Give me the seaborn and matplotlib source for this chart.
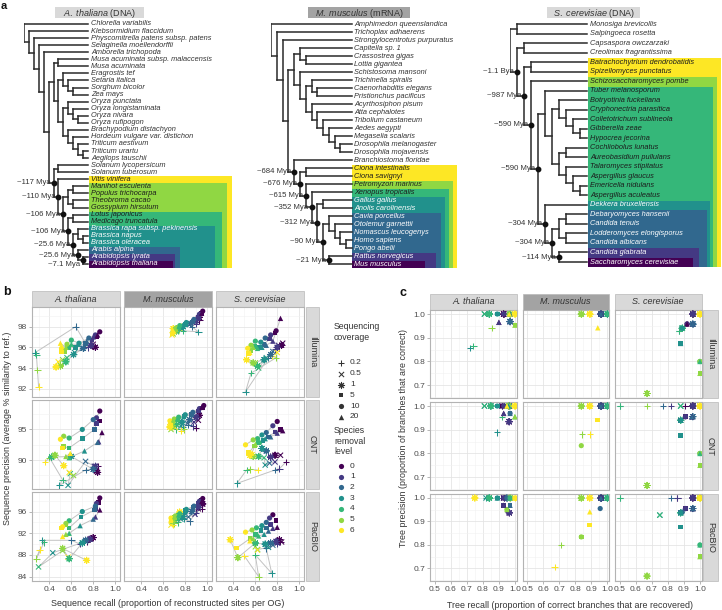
import numpy as np
import pandas as pd
import matplotlib
matplotlib.use("Agg")
import matplotlib.pyplot as plt
from matplotlib.patches import Rectangle
import seaborn as sns

# ======================= DATA: panel a (trees) =======================
athal_tree = ("Chlorella variabilis",
 ("Klebsormidium flaccidum",
  ("Physcomitrella patens subsp. patens",
   ("Selaginella moellendorffii",
    ("Amborella trichopoda",
     ((("Musa acuminata subsp. malaccensis", "Musa acuminata"),
       (("Eragrostis tef", ("Setaria italica", ("Sorghum bicolor", "Zea mays"))),
        (("Oryza punctata", ("Oryza longistaminata", ("Oryza nivara", "Oryza rufipogon"))),
         ("Brachypodium distachyon", ("Hordeum vulgare var. distichon",
                                      ("Triticum aestivum", ("Triticum urartu", "Aegilops tauschii"))))))),
      (("Solanum lycopersicum", "Solanum tuberosum"),
       ("Vitis vinifera",
        ((("Manihot esculenta", "Populus trichocarpa"), ("Theobroma cacao", "Gossypium hirsutum")),
         (("Lotus japonicus", "Medicago truncatula"),
          (("Brassica rapa subsp. pekinensis", ("Brassica napus", "Brassica oleracea")),
           ("Arabis alpina", ("Arabidopsis lyrata", "Arabidopsis thaliana")))))))))))))
athal_focal = "Arabidopsis thaliana"
athal_ages = ["~7.1 Mya", "~25.6 Mya", "~25.6 Mya", "~106 Mya", "~106 Mya", "~110 Mya", "~117 Mya"]
athal_box_start = ["Arabidopsis thaliana", "Arabidopsis lyrata", "Arabis alpina",
                   "Brassica rapa subsp. pekinensis", "Lotus japonicus", "Manihot esculenta", "Vitis vinifera"]

mmus_tree = ("Amphimedon queenslandica",
 ("Trichoplax adhaerens",
  ("Strongylocentrotus purpuratus",
   ((("Capitella sp. 1", ("Crassostrea gigas", "Lottia gigantea")),
     ("Schistosoma mansoni",
      (("Trichinella spiralis", ("Caenorhabditis elegans", "Pristionchus pacificus")),
       ("Acyrthosiphon pisum", ("Atta cephalotes", ("Tribolium castaneum", ("Aedes aegypti",
        ("Megaselia scalaris", ("Drosophila melanogaster", "Drosophila mojavensis"))))))))),
    ("Branchiostoma floridae",
     (("Ciona intestinalis", "Ciona savignyi"),
      ("Petromyzon marinus",
       ("Xenopus tropicalis",
        (("Gallus gallus", "Anolis carolinensis"),
         (("Cavia porcellus", ("Otolemur garnettii", ("Nomascus leucogenys", ("Homo sapiens", "Pongo abelii")))),
          ("Rattus norvegicus", "Mus musculus")))))))))))
mmus_focal = "Mus musculus"
mmus_ages = ["~21 Mya", "~90 Mya", "~312 Mya", "~352 Mya", "~615 Mya", "~676 Mya", "~684 Mya"]
mmus_box_start = ["Mus musculus", "Rattus norvegicus", "Cavia porcellus", "Gallus gallus",
                  "Xenopus tropicalis", "Petromyzon marinus", "Ciona intestinalis"]

scer_tree = (("Monosiga brevicollis", "Salpingoeca rosetta"),
 (("Capsaspora owczarzaki", "Creolimax fragrantissima"),
  (("Batrachochytrium dendrobatidis", "Spizellomyces punctatus"),
   ("Schizosaccharomyces pombe",
    (("Tuber melanosporum",
      (("Botryotinia fuckeliana", ("Cryphonectria parasitica", ("Colletotrichum sublineola",
                                                               ("Gibberella zeae", "Hypocrea jecorina")))),
       (("Cochliobolus lunatus", "Aureobasidium pullulans"),
        ("Talaromyces stipitatus", ("Aspergillus glaucus", ("Emericella nidulans", "Aspergillus aculeatus")))))),
     ("Dekkera bruxellensis",
      ((("Debaryomyces hansenii", "Candida tenuis"), ("Lodderomyces elongisporus", "Candida albicans")),
       ("Candida glabrata", "Saccharomyces cerevisiae"))))))))
scer_focal = "Saccharomyces cerevisiae"
scer_ages = ["~114 Mya", "~304 Mya", "~304 Mya", "~590 Mya", "~590 Mya", "~987 Mya", "~1.1 Bya"]
scer_box_start = ["Saccharomyces cerevisiae", "Candida glabrata", "Debaryomyces hansenii",
                  "Dekkera bruxellensis", "Tuber melanosporum", "Schizosaccharomyces pombe",
                  "Batrachochytrium dendrobatidis"]

# ======================= DATA: panels b and c =======================
organisms = ["A. thaliana", "M. musculus", "S. cerevisiae"]
technologies = ["Illumina", "ONT", "PacBIO"]
coverages = [0.2, 0.5, 1, 5, 10, 20]
levels = [0, 1, 2, 3, 4, 5, 6]
coverage_labels = ["0.2", "0.5", "1", "5", "10", "20"]

# rows = coverage (0.2, 0.5, 1, 5, 10, 20); columns = removal level 0..6
b_ath_ill_x = [[0.79, 0.75, 0.64, 0.27, 0.28, 0.29, 0.30],
               [0.80, 0.76, 0.70, 0.63, 0.56, 0.52, 0.48],
               [0.82, 0.78, 0.71, 0.62, 0.55, 0.50, 0.46],
               [0.83, 0.79, 0.73, 0.64, 0.58, 0.54, 0.51],
               [0.86, 0.82, 0.76, 0.67, 0.60, 0.56, 0.51],
               [0.84, 0.80, 0.74, 0.66, 0.60, 0.55, 0.50]]
b_ath_ill_y = [[96.2, 96.0, 98.0, 95.5, 95.3, 93.8, 92.2],
               [96.3, 96.1, 95.9, 95.5, 95.0, 94.8, 94.6],
               [96.0, 96.2, 95.9, 95.3, 94.6, 94.2, 94.1],
               [97.0, 96.7, 96.4, 96.0, 96.0, 95.6, 95.6],
               [97.5, 97.2, 96.9, 96.4, 96.7, 96.3, 95.9],
               [97.2, 97.0, 96.6, 96.3, 96.3, 96.0, 96.4]]
b_mmu_ill_x = [[0.93, 0.90, 0.86, 0.92, 0.78, 0.74, 0.76],
               [0.92, 0.89, 0.84, 0.77, 0.72, 0.69, 0.68],
               [0.93, 0.90, 0.85, 0.78, 0.72, 0.70, 0.69],
               [0.95, 0.92, 0.87, 0.80, 0.74, 0.71, 0.68],
               [0.96, 0.93, 0.88, 0.81, 0.75, 0.72, 0.69],
               [0.95, 0.92, 0.87, 0.80, 0.74, 0.71, 0.69]]
b_mmu_ill_y = [[98.6, 98.3, 98.0, 97.5, 97.6, 97.7, 98.0],
               [98.8, 98.5, 98.2, 97.8, 97.5, 97.3, 97.2],
               [98.9, 98.6, 98.3, 98.0, 97.6, 97.5, 97.8],
               [99.3, 98.9, 98.5, 98.2, 97.9, 97.7, 97.3],
               [99.5, 99.2, 98.7, 98.4, 98.1, 97.9, 97.4],
               [99.3, 99.0, 98.6, 98.3, 98.0, 97.8, 97.6]]
b_sce_ill_x = [[0.82, 0.78, 0.72, 0.51, 0.56, 0.79, 0.75],
               [0.85, 0.81, 0.76, 0.70, 0.63, 0.60, 0.80],
               [0.84, 0.80, 0.74, 0.68, 0.62, 0.58, 0.52],
               [0.78, 0.73, 0.68, 0.64, 0.59, 0.56, 0.54],
               [0.79, 0.74, 0.69, 0.65, 0.60, 0.56, 0.53],
               [0.83, 0.76, 0.70, 0.66, 0.62, 0.58, 0.55]]
b_sce_ill_y = [[96.0, 95.8, 95.0, 91.7, 93.5, 95.0, 95.2],
               [96.4, 96.2, 95.6, 95.0, 94.0, 94.5, 95.5],
               [96.2, 96.0, 95.3, 94.8, 94.2, 94.5, 94.8],
               [97.4, 96.8, 96.3, 96.0, 96.1, 95.7, 95.4],
               [97.6, 97.2, 96.9, 96.5, 96.6, 96.2, 95.9],
               [98.8, 96.6, 96.2, 96.0, 95.9, 96.0, 95.5]]
b_ath_ont_x = [[0.84, 0.80, 0.73, 0.49, 0.52, 0.40, 0.36],
               [0.83, 0.81, 0.73, 0.57, 0.59, 0.62, 0.58],
               [0.84, 0.82, 0.80, 0.60, 0.42, 0.45, 0.53],
               [0.86, 0.83, 0.81, 0.70, 0.58, 0.53, 0.52],
               [0.86, 0.83, 0.80, 0.70, 0.58, 0.53, 0.50],
               [0.88, 0.85, 0.84, 0.72, 0.58, 0.55, 0.59]]
b_ath_ont_y = [[89.0, 88.6, 88.4, 85.9, 86.8, 90.4, 89.7],
               [88.2, 89.0, 89.8, 85.9, 87.8, 87.5, 88.0],
               [88.0, 89.0, 88.5, 90.6, 90.5, 90.8, 89.1],
               [96.4, 96.0, 95.0, 93.5, 92.0, 92.2, 92.0],
               [98.0, 96.9, 96.6, 95.0, 93.6, 93.9, 93.4],
               [94.5, 93.0, 92.9, 91.5, 90.4, 90.6, 91.1]]
b_mmu_ont_x = [[0.90, 0.87, 0.83, 0.78, 0.72, 0.79, 0.76],
               [0.92, 0.88, 0.82, 0.76, 0.70, 0.67, 0.71],
               [0.93, 0.90, 0.84, 0.77, 0.72, 0.68, 0.66],
               [0.96, 0.92, 0.86, 0.79, 0.73, 0.69, 0.67],
               [0.97, 0.93, 0.87, 0.80, 0.74, 0.70, 0.66],
               [0.95, 0.92, 0.86, 0.79, 0.73, 0.69, 0.66]]
b_mmu_ont_y = [[95.3, 95.5, 95.8, 95.4, 95.0, 95.0, 94.8],
               [96.5, 96.2, 96.0, 95.6, 95.3, 95.0, 95.3],
               [97.3, 97.0, 96.6, 96.2, 95.8, 95.6, 95.4],
               [98.5, 98.0, 97.4, 97.1, 96.6, 96.3, 96.0],
               [98.9, 98.4, 97.8, 97.4, 97.0, 96.7, 96.4],
               [98.6, 98.2, 97.6, 97.3, 96.8, 96.5, 96.2]]
b_sce_ont_x = [[0.88, 0.82, 0.78, 0.43, 0.52, 0.55, 0.62],
               [0.83, 0.78, 0.73, 0.69, 0.68, 0.62, 0.57],
               [0.78, 0.74, 0.70, 0.66, 0.63, 0.58, 0.55],
               [0.83, 0.78, 0.72, 0.67, 0.63, 0.59, 0.54],
               [0.80, 0.76, 0.70, 0.66, 0.62, 0.58, 0.51],
               [0.85, 0.80, 0.74, 0.69, 0.64, 0.60, 0.57]]
b_sce_ont_y = [[89.7, 88.6, 88.4, 86.2, 88.4, 88.5, 88.4],
               [90.8, 89.7, 89.5, 89.2, 90.4, 90.6, 90.9],
               [90.8, 90.5, 91.5, 91.9, 90.6, 90.6, 90.8],
               [95.0, 94.6, 93.8, 93.2, 92.8, 92.3, 91.2],
               [96.3, 95.6, 94.5, 94.1, 93.5, 93.3, 92.5],
               [94.8, 94.4, 93.8, 93.5, 93.0, 92.6, 91.2]]
b_ath_pac_x = [[0.74, 0.68, 0.60, 0.33, 0.35, 0.28, 0.31],
               [0.78, 0.75, 0.73, 0.43, 0.30, 0.52, 0.57],
               [0.80, 0.77, 0.73, 0.70, 0.58, 0.52, 0.74],
               [0.85, 0.82, 0.81, 0.69, 0.58, 0.55, 0.51],
               [0.86, 0.83, 0.82, 0.70, 0.58, 0.55, 0.52],
               [0.86, 0.82, 0.80, 0.68, 0.58, 0.55, 0.52]]
b_ath_pac_y = [[90.4, 90.0, 90.7, 90.7, 90.3, 87.3, 89.0],
               [91.0, 90.8, 90.5, 88.4, 85.8, 88.8, 87.6],
               [91.2, 90.9, 90.7, 90.2, 87.3, 89.2, 87.0],
               [97.7, 96.6, 96.3, 95.0, 93.0, 93.5, 93.0],
               [98.5, 97.5, 97.0, 96.0, 94.3, 93.8, 93.2],
               [96.3, 95.0, 94.6, 93.4, 92.0, 91.8, 91.4]]
b_mmu_pac_x = [[0.95, 0.90, 0.84, 0.79, 0.73, 0.70, 0.69],
               [0.92, 0.89, 0.83, 0.76, 0.71, 0.68, 0.67],
               [0.96, 0.92, 0.86, 0.78, 0.72, 0.69, 0.75],
               [0.95, 0.92, 0.87, 0.80, 0.74, 0.70, 0.67],
               [0.96, 0.93, 0.88, 0.81, 0.75, 0.71, 0.67],
               [0.95, 0.92, 0.87, 0.80, 0.74, 0.70, 0.67]]
b_mmu_pac_y = [[96.5, 95.8, 94.2, 94.6, 94.0, 93.8, 93.6],
               [96.5, 95.5, 95.0, 94.6, 94.3, 94.0, 93.5],
               [97.4, 96.8, 96.0, 95.1, 94.6, 94.2, 95.9],
               [98.0, 97.5, 96.8, 96.2, 95.3, 94.9, 94.4],
               [98.4, 97.9, 97.0, 96.4, 95.6, 95.2, 94.8],
               [97.8, 97.3, 96.6, 96.0, 95.4, 95.0, 94.6]]
b_sce_pac_x = [[0.83, 0.80, 0.70, 0.75, 0.60, 0.63, 0.50],
               [0.84, 0.80, 0.76, 0.72, 0.62, 0.60, 0.62],
               [0.82, 0.79, 0.74, 0.69, 0.60, 0.44, 0.37],
               [0.79, 0.74, 0.70, 0.65, 0.60, 0.55, 0.43],
               [0.76, 0.73, 0.70, 0.66, 0.61, 0.57, 0.51],
               [0.80, 0.76, 0.72, 0.68, 0.63, 0.58, 0.55]]
b_sce_pac_y = [[90.4, 90.0, 89.2, 84.6, 88.0, 84.0, 87.8],
               [90.4, 90.2, 89.8, 89.4, 89.0, 89.5, 88.9],
               [90.8, 90.5, 90.2, 90.0, 90.2, 87.5, 90.8],
               [94.3, 93.6, 93.0, 92.5, 91.8, 91.0, 89.3],
               [95.4, 94.8, 94.0, 93.4, 93.0, 92.6, 92.2],
               [93.1, 92.9, 92.4, 91.8, 91.5, 91.0, 90.6]]

c_ath_ill_x = [[0.93, 0.93, 0.97, 0.72, 0.74, 0.854, 1.0],
               [0.93, 0.93, 0.97, 0.81, 0.81, 0.97, 1.0],
               [0.93, 0.97, 0.97, 0.84, 0.84, 0.97, 1.0],
               [0.93, 0.93, 0.97, 0.89, 0.965, 1.0, 1.0],
               [0.93, 0.93, 0.97, 0.89, 0.965, 0.965, 1.0],
               [0.90, 0.90, 0.97, 0.965, 0.965, 1.0, 0.965]]
c_ath_ill_y = [[1.0, 1.0, 1.0, 0.857, 0.866, 0.942, 1.0],
               [1.0, 1.0, 0.968, 1.0, 1.0, 1.0, 1.0],
               [1.0, 0.968, 0.968, 1.0, 1.0, 1.0, 1.0],
               [1.0, 1.0, 1.0, 1.0, 1.0, 0.953, 1.0],
               [1.0, 1.0, 0.968, 1.0, 1.0, 1.0, 1.0],
               [0.965, 0.965, 1.0, 1.0, 1.0, 0.953, 1.0]]
c_mmu_ill_x = [[0.96, 0.96, 0.96, 1.0, 1.0, 0.837, 0.89],
               [0.96, 0.96, 0.96, 1.0, 1.0, 0.837, 0.89],
               [0.96, 0.96, 0.96, 1.0, 1.0, 0.837, 0.89],
               [0.96, 0.96, 0.96, 1.0, 1.0, 0.837, 0.89],
               [0.96, 0.96, 0.96, 1.0, 1.0, 0.837, 0.89],
               [0.96, 0.96, 0.96, 1.0, 1.0, 0.837, 0.94]]
c_mmu_ill_y = [[1.0, 1.0, 1.0, 1.0, 1.0, 1.0, 1.0],
               [1.0, 1.0, 1.0, 1.0, 1.0, 1.0, 1.0],
               [1.0, 1.0, 1.0, 1.0, 1.0, 1.0, 1.0],
               [1.0, 1.0, 1.0, 1.0, 1.0, 1.0, 1.0],
               [1.0, 1.0, 1.0, 1.0, 1.0, 1.0, 1.0],
               [1.0, 1.0, 1.0, 1.0, 1.0, 1.0, 0.942]]
c_sce_ill_x = [[0.956, 0.956, 0.956, 0.87, 0.87, 0.956, 1.0],
               [0.956, 0.956, 0.956, 0.89, 0.89, 0.956, 1.0],
               [0.956, 0.956, 0.956, 0.89, 0.89, 0.67, 1.0],
               [0.92, 0.92, 0.956, 0.88, 1.0, 1.0, 1.0],
               [0.92, 0.92, 0.956, 0.89, 1.0, 1.0, 1.0],
               [0.92, 0.956, 0.956, 0.88, 1.0, 1.0, 1.0]]
c_sce_ill_y = [[1.0, 1.0, 0.958, 0.93, 0.93, 1.0, 1.0],
               [1.0, 1.0, 0.958, 0.94, 0.94, 1.0, 1.0],
               [1.0, 1.0, 0.958, 0.94, 0.94, 0.665, 1.0],
               [0.958, 0.958, 0.958, 0.876, 0.75, 0.75, 1.0],
               [0.958, 0.958, 0.958, 0.94, 0.80, 0.80, 1.0],
               [0.958, 0.958, 0.958, 0.876, 0.80, 0.75, 1.0]]
c_ath_ont_x = [[0.92, 0.92, 0.96, 0.887, 0.92, 0.97, 1.0],
               [0.92, 0.92, 0.96, 0.81, 0.81, 0.96, 1.0],
               [0.964, 0.964, 0.964, 0.85, 0.85, 0.96, 1.0],
               [0.92, 0.93, 0.97, 0.89, 0.96, 0.96, 1.0],
               [0.92, 0.93, 0.97, 0.89, 0.96, 0.96, 1.0],
               [0.93, 0.93, 0.97, 0.96, 1.0, 1.0, 0.95]]
c_ath_ont_y = [[1.0, 1.0, 1.0, 0.889, 0.955, 1.0, 1.0],
               [1.0, 1.0, 1.0, 1.0, 1.0, 1.0, 1.0],
               [0.934, 0.934, 1.0, 1.0, 1.0, 1.0, 1.0],
               [1.0, 1.0, 0.969, 1.0, 1.0, 1.0, 1.0],
               [1.0, 1.0, 0.969, 1.0, 1.0, 1.0, 1.0],
               [0.969, 0.969, 0.969, 1.0, 0.955, 0.955, 1.0]]
c_mmu_ont_x = [[0.96, 0.96, 0.96, 1.0, 1.0, 0.84, 0.89],
               [0.96, 0.96, 0.96, 1.0, 1.0, 0.837, 0.89],
               [0.96, 0.96, 0.96, 1.0, 1.0, 0.837, 0.89],
               [0.96, 0.96, 0.96, 1.0, 1.0, 0.837, 0.94],
               [0.96, 0.96, 0.96, 1.0, 1.0, 0.837, 0.89],
               [0.96, 0.96, 0.96, 1.0, 1.0, 0.837, 0.89]]
c_mmu_ont_y = [[1.0, 1.0, 1.0, 1.0, 1.0, 0.881, 0.881],
               [1.0, 1.0, 1.0, 1.0, 1.0, 1.0, 1.0],
               [1.0, 1.0, 1.0, 1.0, 1.0, 1.0, 1.0],
               [1.0, 1.0, 1.0, 1.0, 1.0, 1.0, 0.941],
               [1.0, 1.0, 1.0, 1.0, 1.0, 0.833, 1.0],
               [1.0, 1.0, 1.0, 1.0, 1.0, 1.0, 1.0]]
c_sce_ont_x = [[0.91, 0.82, 0.77, 0.5, 0.5, 0.67, 1.0],
               [0.956, 0.956, 0.956, 0.88, 0.88, 0.956, 1.0],
               [0.956, 0.956, 0.956, 0.88, 0.88, 0.67, 1.0],
               [0.91, 0.91, 0.88, 0.88, 1.0, 1.0, 1.0],
               [0.91, 0.91, 0.88, 0.88, 1.0, 1.0, 1.0],
               [0.95, 0.95, 0.95, 0.88, 1.0, 1.0, 1.0]]
c_sce_ont_y = [[1.0, 1.0, 1.0, 1.0, 1.0, 1.0, 1.0],
               [1.0, 1.0, 1.0, 1.0, 1.0, 1.0, 1.0],
               [1.0, 1.0, 0.955, 0.94, 0.94, 0.665, 1.0],
               [0.955, 0.955, 0.94, 0.875, 0.75, 0.75, 1.0],
               [0.955, 0.955, 0.94, 0.94, 0.80, 0.80, 1.0],
               [0.955, 0.955, 0.955, 0.94, 0.80, 0.75, 1.0]]
c_ath_pac_x = [[0.93, 0.93, 0.95, 0.82, 0.84, 0.97, 1.0],
               [0.93, 0.93, 0.95, 0.82, 0.84, 0.97, 1.0],
               [0.965, 0.965, 0.95, 0.84, 0.84, 0.97, 0.75],
               [0.93, 0.93, 0.97, 0.89, 0.97, 0.97, 1.0],
               [0.93, 0.93, 0.95, 0.89, 0.97, 0.95, 1.0],
               [0.93, 0.93, 0.97, 0.89, 0.97, 0.95, 1.0]]
c_ath_pac_y = [[1.0, 1.0, 1.0, 1.0, 1.0, 1.0, 1.0],
               [1.0, 1.0, 1.0, 1.0, 1.0, 1.0, 1.0],
               [0.937, 0.937, 1.0, 1.0, 1.0, 1.0, 1.0],
               [1.0, 0.969, 0.969, 1.0, 1.0, 1.0, 1.0],
               [1.0, 1.0, 1.0, 1.0, 1.0, 0.951, 1.0],
               [0.969, 0.969, 0.969, 1.0, 1.0, 0.951, 1.0]]
c_mmu_pac_x = [[0.96, 0.96, 0.96, 1.0, 1.0, 0.71, 0.67],
               [0.96, 0.96, 0.96, 1.0, 1.0, 0.837, 0.89],
               [0.96, 0.96, 0.96, 1.0, 1.0, 0.837, 0.89],
               [0.96, 0.96, 0.96, 1.0, 1.0, 0.837, 0.89],
               [0.96, 0.96, 0.955, 1.0, 1.0, 0.837, 0.89],
               [0.96, 0.96, 0.96, 1.0, 1.0, 0.837, 0.89]]
c_mmu_pac_y = [[1.0, 1.0, 1.0, 1.0, 1.0, 0.80, 0.705],
               [1.0, 1.0, 1.0, 1.0, 1.0, 1.0, 1.0],
               [1.0, 1.0, 1.0, 1.0, 1.0, 1.0, 1.0],
               [1.0, 1.0, 1.0, 1.0, 1.0, 0.834, 0.884],
               [1.0, 1.0, 0.955, 1.0, 1.0, 0.834, 1.0],
               [1.0, 1.0, 1.0, 1.0, 1.0, 1.0, 0.941]]
c_sce_pac_x = [[0.86, 0.86, 0.82, 0.5, 0.5, 1.0, 1.0],
               [0.956, 0.956, 0.956, 0.75, 0.75, 1.0, 1.0],
               [0.956, 0.956, 0.956, 0.88, 0.88, 0.67, 1.0],
               [0.91, 0.91, 0.88, 0.88, 1.0, 1.0, 1.0],
               [0.91, 0.91, 0.89, 0.88, 1.0, 1.0, 1.0],
               [0.956, 0.956, 0.956, 0.88, 1.0, 1.0, 1.0]]
c_sce_pac_y = [[1.0, 1.0, 1.0, 1.0, 1.0, 1.0, 1.0],
               [1.0, 1.0, 1.0, 0.927, 0.927, 1.0, 1.0],
               [1.0, 1.0, 0.955, 0.937, 0.937, 0.667, 1.0],
               [0.955, 0.955, 0.937, 0.877, 0.75, 0.75, 1.0],
               [0.955, 0.955, 0.94, 0.937, 0.80, 1.0, 1.0],
               [0.955, 0.955, 0.955, 0.937, 0.80, 0.75, 1.0]]

b_sets = {("A. thaliana", "Illumina"): (b_ath_ill_x, b_ath_ill_y),
          ("M. musculus", "Illumina"): (b_mmu_ill_x, b_mmu_ill_y),
          ("S. cerevisiae", "Illumina"): (b_sce_ill_x, b_sce_ill_y),
          ("A. thaliana", "ONT"): (b_ath_ont_x, b_ath_ont_y),
          ("M. musculus", "ONT"): (b_mmu_ont_x, b_mmu_ont_y),
          ("S. cerevisiae", "ONT"): (b_sce_ont_x, b_sce_ont_y),
          ("A. thaliana", "PacBIO"): (b_ath_pac_x, b_ath_pac_y),
          ("M. musculus", "PacBIO"): (b_mmu_pac_x, b_mmu_pac_y),
          ("S. cerevisiae", "PacBIO"): (b_sce_pac_x, b_sce_pac_y)}
c_sets = {("A. thaliana", "Illumina"): (c_ath_ill_x, c_ath_ill_y),
          ("M. musculus", "Illumina"): (c_mmu_ill_x, c_mmu_ill_y),
          ("S. cerevisiae", "Illumina"): (c_sce_ill_x, c_sce_ill_y),
          ("A. thaliana", "ONT"): (c_ath_ont_x, c_ath_ont_y),
          ("M. musculus", "ONT"): (c_mmu_ont_x, c_mmu_ont_y),
          ("S. cerevisiae", "ONT"): (c_sce_ont_x, c_sce_ont_y),
          ("A. thaliana", "PacBIO"): (c_ath_pac_x, c_ath_pac_y),
          ("M. musculus", "PacBIO"): (c_mmu_pac_x, c_mmu_pac_y),
          ("S. cerevisiae", "PacBIO"): (c_sce_pac_x, c_sce_pac_y)}


def to_frame(sets):
    rows = []
    for (org, tech), (xs, ys) in sets.items():
        for ci, cov in enumerate(coverages):
            for lv in levels:
                rows.append((org, tech, cov, lv, xs[ci][lv], ys[ci][lv]))
    return pd.DataFrame(rows, columns=["organism", "technology", "coverage", "level", "x", "y"])


df_b = to_frame(b_sets)
df_c = to_frame(c_sets)

# ======================= STYLE =======================
sns.set_theme(style="white")
FONT = "Liberation Sans"
plt.rcParams["font.family"] = [FONT, "DejaVu Sans"]
plt.rcParams["mathtext.fontset"] = "custom"
plt.rcParams["mathtext.rm"] = FONT
plt.rcParams["mathtext.it"] = FONT + ":italic"

LEVEL_COLORS = {lv: matplotlib.colors.to_hex(plt.cm.viridis(lv / 6)) for lv in levels}
MARKERS = {0.2: "+", 0.5: "x", 1: (8, 2, 0), 5: "s", 10: "o", 20: "^"}
MSIZE = {0.2: 22, 0.5: 14, 1: 20, 5: 11, 10: 14, 20: 15}
LINEART = {0.2: True, 0.5: True, 1: True, 5: False, 10: False, 20: False}
TXT = "#333333"
STRIP_LIGHT = "#d9d9d9"
STRIP_DARK = "#a3a3a3"

W, H = 722, 610
fig = plt.figure(figsize=(W / 100, H / 100), dpi=100)
fig.patch.set_facecolor("white")


def rect(x0, y0, x1, y1):
    return [x0 / W, 1 - y1 / H, (x1 - x0) / W, (y1 - y0) / H]


ov = fig.add_axes([0, 0, 1, 1], zorder=-1)
ov.set_xlim(0, W)
ov.set_ylim(H, 0)
ov.axis("off")

# ======================= panel a: trees =======================
def build(node, depth, leaves, nodes):
    if isinstance(node, str):
        leaves.append(node)
        return {"leaf": True, "y": len(leaves) - 1, "members": {node}}
    kids = [build(c, depth + 1, leaves, nodes) for c in node]
    rec = {"leaf": False, "depth": depth, "y": (kids[0]["y"] + kids[-1]["y"]) / 2,
           "kids": kids, "members": set().union(*[k["members"] for k in kids])}
    nodes.append(rec)
    return rec


def draw_tree(tree, focal, ages, box_start, L):
    leaves, nodes = [], []
    build(tree, 0, leaves, nodes)
    n = len(leaves)
    D = max(nd["depth"] for nd in nodes)
    tip = D + 1
    sp = (L["bottom"] - L["top"]) / (n - 1)
    step = (L["tip"] - L["root"]) / tip
    ax = fig.add_axes(rect(L["root"], L["top"] - sp / 2, L["right"], L["bottom"] + sp / 2))
    ax.set_xlim(0, (L["right"] - L["root"]) / step)
    ax.set_ylim(n - 0.5, -0.5)
    ax.axis("off")

    def px(p):
        return (p - L["root"]) / step

    starts = [leaves.index(s) for s in box_start]
    for lv in reversed(levels):
        i0 = starts[lv]
        ax.add_patch(Rectangle((px(L["box_left"]), i0 - 0.42),
                               px(L["box_right"][lv]) - px(L["box_left"]),
                               (n - 0.5) - (i0 - 0.42),
                               facecolor=LEVEL_COLORS[lv], edgecolor="none", zorder=0))
    lc = "#2a2a2a"
    for nd in nodes:
        ax.plot([nd["depth"], nd["depth"]], [nd["kids"][0]["y"], nd["kids"][-1]["y"]],
                color=lc, lw=1.1, solid_capstyle="projecting", zorder=2)
        for k in nd["kids"]:
            xk = tip if k["leaf"] else k["depth"]
            ax.plot([nd["depth"], xk], [k["y"], k["y"]], color=lc, lw=1.1,
                    solid_capstyle="projecting", zorder=2)
    for i, name in enumerate(leaves):
        inside = [lv for lv in levels if i >= starts[lv]]
        if inside:
            col = "white" if min(inside) <= 3 else "#1c1c1c"
        else:
            col = TXT
        ax.text(px(L["text"]), i, name, fontsize=5.3, style="italic", color=col,
                ha="left", va="center", zorder=3)
    path = sorted([nd for nd in nodes if focal in nd["members"]], key=lambda d: -d["depth"])
    pairs = list(zip(path, ages))[::-1]  # top-most label first
    min_sep = 9.0 / sp
    last_y = -1e9
    for nd, age in pairs:
        ax.plot(nd["depth"], nd["y"], "o", ms=3.2, color="#111111", zorder=4)
        ly = max(nd["y"], last_y + min_sep)
        last_y = ly
        ax.text(nd["depth"] - 3 / step, ly, age, fontsize=5.6, color=TXT,
                ha="right", va="center", zorder=4)


draw_tree(athal_tree, athal_focal, athal_ages, athal_box_start,
          dict(root=24, tip=88, text=91, box_left=89, right=240, top=24, bottom=264,
               box_right=[173, 175, 180, 215, 222, 227, 232]))
draw_tree(mmus_tree, mmus_focal, mmus_ages, mmus_box_start,
          dict(root=271, tip=352, text=354, box_left=352, right=470, top=24, bottom=264,
               box_right=[425, 436, 441, 445, 449, 453, 457]))
draw_tree(scer_tree, scer_focal, scer_ages, scer_box_start,
          dict(root=510, tip=587, text=590, box_left=588, right=722, top=24, bottom=262,
               box_right=[693, 699, 707, 710, 713, 717, 721]))


def header(x0, x1, y0, y1, text, fc):
    ov.add_patch(Rectangle((x0, y0), x1 - x0, y1 - y0, facecolor=fc, edgecolor="none"))
    ov.text((x0 + x1) / 2, (y0 + y1) / 2 + 0.5, text, ha="center", va="center", fontsize=6.5, color=TXT)


header(55, 144, 7, 18, r"$\it{A.\ thaliana}$ (DNA)", STRIP_LIGHT)
header(308, 410, 7, 18, r"$\it{M.\ musculus}$ (mRNA)", STRIP_DARK)
header(547, 640, 7, 18, r"$\it{S.\ cerevisiae}$ (DNA)", STRIP_LIGHT)

ov.text(1, 6, "a", fontsize=8, fontweight="bold", ha="left", va="center", color="#111111")
ov.text(3, 292, "b", fontsize=9, fontweight="bold", ha="left", va="center", color="#111111")
ov.text(400, 293, "c", fontsize=9, fontweight="bold", ha="left", va="center", color="#111111")


# ======================= panels b and c =======================
def strip(x0, y0, x1, y1, text, fc, rotation=0, italic=True):
    ov.add_patch(Rectangle((x0, y0), x1 - x0, y1 - y0, facecolor=fc, edgecolor="#b8b8b8", lw=0.5))
    ov.text((x0 + x1) / 2, (y0 + y1) / 2, text, ha="center", va="center", fontsize=6.5,
            style="italic" if italic else "normal", rotation=rotation, color=TXT)


def draw_facet(ax, sub, xlim, ylim, xt, xm, yt, ym, show_x, show_y, lines):
    if lines:
        sns.lineplot(data=sub, x="x", y="y", units="coverage", estimator=None, sort=False,
                     color="#c2c2c2", linewidth=0.7, ax=ax, legend=False, zorder=1)
    for cov in coverages:
        part = sub[sub["coverage"] == cov]
        kw = dict(linewidth=0.75) if LINEART[cov] else dict(linewidth=0, edgecolor="none")
        sns.scatterplot(data=part, x="x", y="y", hue="level", palette=LEVEL_COLORS,
                        marker=MARKERS[cov], s=MSIZE[cov], legend=False, ax=ax, zorder=3, **kw)
    ax.set_xlim(xlim)
    ax.set_ylim(ylim)
    ax.set_xticks(xt)
    ax.set_xticks(xm, minor=True)
    ax.set_yticks(yt)
    ax.set_yticks(ym, minor=True)
    ax.grid(True, which="major", color="#e3e3e3", lw=0.55)
    ax.grid(True, which="minor", color="#f1f1f1", lw=0.4)
    ax.set_axisbelow(True)
    ax.set_facecolor("white")
    for s in ax.spines.values():
        s.set_color("#b3b3b3")
        s.set_linewidth(0.8)
    ax.set_xlabel("")
    ax.set_ylabel("")
    ax.tick_params(which="minor", length=0)
    ax.tick_params(which="major", length=2, width=0.5, color="#9a9a9a", labelsize=6,
                   labelcolor="#4d4d4d", pad=1.5)
    ax.tick_params(axis="x", bottom=show_x, labelbottom=show_x)
    ax.tick_params(axis="y", left=show_y, labelleft=show_y)


fmt1 = lambda v: f"{v:.1f}"

# ---- panel b ----
b_cols = [(32, 120), (124, 212), (216, 304)]
b_rows = [(307, 397), (400, 489), (492, 581)]
b_xlim = (0.24, 1.045)
b_ylims = [(91.2, 99.9), (85.3, 99.8), (83.2, 99.6)]
b_yt = [[92, 94, 96, 98], [90, 95], [84, 88, 92, 96]]
b_ym = [[93, 95, 97, 99], [87.5, 92.5, 97.5], [86, 90, 94, 98]]
for ri, tech in enumerate(technologies):
    for ci, org in enumerate(organisms):
        (x0, x1), (y0, y1) = b_cols[ci], b_rows[ri]
        ax = fig.add_axes(rect(x0, y0, x1, y1))
        sub = df_b[(df_b.organism == org) & (df_b.technology == tech)]
        draw_facet(ax, sub, b_xlim, b_ylims[ri], [0.4, 0.6, 0.8, 1.0], [0.3, 0.5, 0.7, 0.9],
                   b_yt[ri], b_ym[ri], ri == 2, ci == 0, True)
        if ri == 2:
            ax.set_xticklabels([fmt1(v) for v in [0.4, 0.6, 0.8, 1.0]])
for ci, org in enumerate(organisms):
    strip(b_cols[ci][0], 291, b_cols[ci][1], 307, org, STRIP_DARK if ci == 1 else STRIP_LIGHT)
for ri, tech in enumerate(technologies):
    strip(306, b_rows[ri][0], 319, b_rows[ri][1], tech, STRIP_LIGHT, rotation=270, italic=False)
ov.text(8, 428, "Sequence precision (average % similarity to ref.)", rotation=90,
        ha="center", va="center", fontsize=6.4, color=TXT)
ov.text(168, 604, "Sequence recall (proportion of reconstructed sites per OG)",
        ha="center", va="center", fontsize=6.4, color=TXT)

# ---- panel c ----
c_cols = [(430, 516.5), (522.5, 609), (615, 701.5)]
c_rows = [(310, 398), (402, 490), (494, 581)]
for ri, tech in enumerate(technologies):
    for ci, org in enumerate(organisms):
        (x0, x1), (y0, y1) = c_cols[ci], c_rows[ri]
        ax = fig.add_axes(rect(x0, y0, x1, y1))
        sub = df_c[(df_c.organism == org) & (df_c.technology == tech)]
        draw_facet(ax, sub, (0.47, 1.01), (0.646, 1.017),
                   [0.5, 0.6, 0.7, 0.8, 0.9, 1.0], [0.55, 0.65, 0.75, 0.85, 0.95],
                   [0.7, 0.8, 0.9, 1.0], [0.65, 0.75, 0.85, 0.95], ri == 2, ci == 0, False)
        if ri == 2:
            ax.set_xticklabels([fmt1(v) for v in [0.5, 0.6, 0.7, 0.8, 0.9, 1.0]])
        if ci == 0:
            ax.set_yticklabels([fmt1(v) for v in [0.7, 0.8, 0.9, 1.0]])
for ci, org in enumerate(organisms):
    strip(c_cols[ci][0], 294, c_cols[ci][1], 310, org, STRIP_DARK if ci == 1 else STRIP_LIGHT)
for ri, tech in enumerate(technologies):
    strip(703, c_rows[ri][0], 718, c_rows[ri][1], tech, STRIP_LIGHT, rotation=270, italic=False)
ov.text(404, 438, "Tree precision (proportion of branches that are correct)", rotation=90,
        ha="center", va="center", fontsize=6.4, color=TXT)
ov.text(570, 605, "Tree recall (proportion of correct branches that are recovered)",
        ha="center", va="center", fontsize=6.4, color=TXT)

# ---- legends ----
ov.text(334, 332, "Sequencing\ncoverage", ha="left", va="center", fontsize=6.3, color=TXT,
        linespacing=1.2)
for i, (cov, lab) in enumerate(zip(coverages, coverage_labels)):
    yy = 363 + i * 10.8
    kw = dict(linewidths=0.75) if LINEART[cov] else dict(linewidths=0)
    ov.scatter([341], [yy], marker=MARKERS[cov], s=MSIZE[cov], c="#333333", **kw)
    ov.text(350, yy, lab, ha="left", va="center", fontsize=6, color=TXT)
ov.text(334, 441, "Species\nremoval\nlevel", ha="left", va="center", fontsize=6.3, color=TXT,
        linespacing=1.2)
for i, lv in enumerate(levels):
    yy = 466 + i * 10.7
    ov.scatter([341], [yy], marker="o", s=14, c=LEVEL_COLORS[lv], linewidths=0)
    ov.text(350, yy, str(lv), ha="left", va="center", fontsize=6, color=TXT)

fig.savefig("out.png", dpi=100, facecolor="white")
